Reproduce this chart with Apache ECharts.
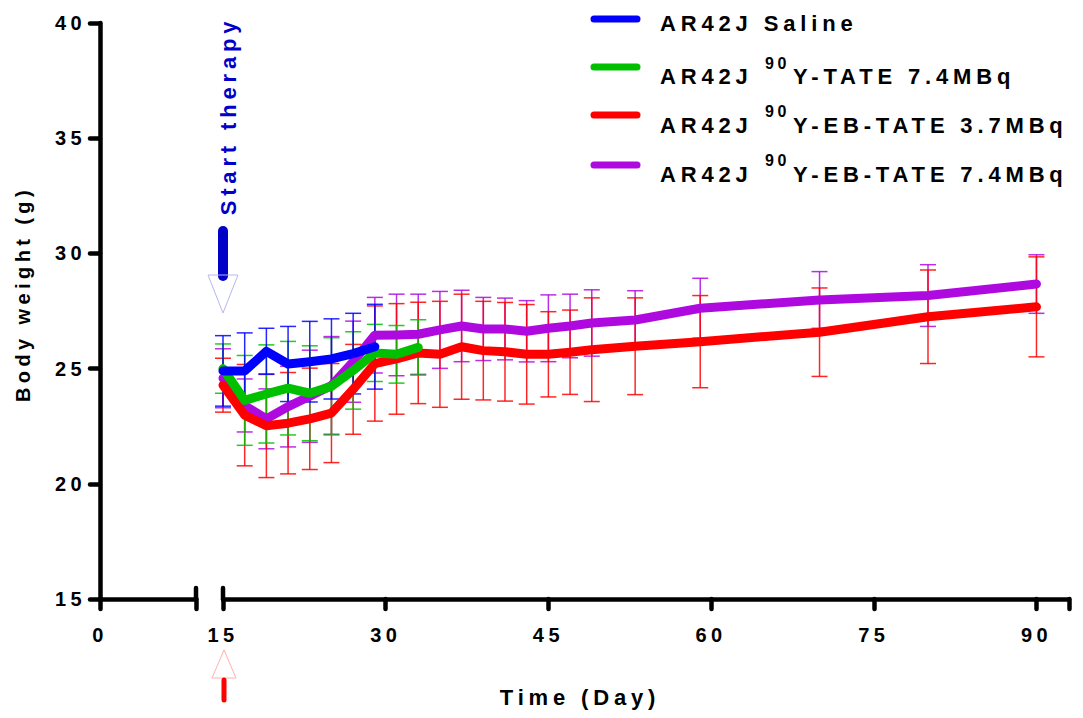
<!DOCTYPE html>
<html>
<head>
<meta charset="utf-8">
<title>Body weight</title>
<script src="https://cdn.jsdelivr.net/npm/echarts@6.0.0/dist/echarts.min.js"></script>
<style>
  html, body { margin: 0; padding: 0; background: #fff; }
  #chart { width: 1083px; height: 718px; }
  /* the figure uses wide letter spacing on all of its text */
  #chart text { letter-spacing: 0.22em; }
</style>
</head>
<body>
<div id="chart"></div>
<script>
// measurement days (all groups share the same schedule, some stop early)
const days = [15, 17, 19, 21, 23, 25, 27, 29, 31, 33, 35, 37, 39, 41, 43, 45, 47, 49, 53, 59, 70, 80, 90];

// AR42J Saline (days 15..29)
const salineMean = [24.9, 24.9, 25.75, 25.2, 25.3, 25.42, 25.65, 25.95];
const salineSd = [1.53, 1.65, 1.0, 1.63, 1.75, 1.74, 1.75, 1.84];

// AR42J 90Y-TATE 7.4MBq (days 15..33)
const tateMean = [25.0, 23.62, 23.9, 24.15, 23.93, 24.23, 24.92, 25.68, 25.62, 25.92];
const tateSd = [1.07, 1.95, 2.13, 2.03, 2.06, 2.11, 1.68, 1.24, 1.25, 1.2];

// AR42J 90Y-EB-TATE 3.7MBq
const ebLowMean = [24.28, 22.98, 22.52, 22.63, 22.82, 23.07, 24.1, 25.22, 25.42, 25.68, 25.62, 25.95,
  25.78, 25.73, 25.62, 25.62, 25.71, 25.82, 25.97, 26.17, 26.58, 27.25, 27.68];
const ebLowSd = [1.17, 2.2, 2.25, 2.2, 2.2, 2.15, 1.95, 2.5, 2.4, 2.2, 2.3, 2.28,
  2.14, 2.14, 2.16, 1.85, 1.83, 2.25, 2.1, 2.0, 1.92, 2.03, 2.17];

// AR42J 90Y-EB-TATE 7.4MBq
const ebHighMean = [24.58, 23.4, 22.82, 23.35, 23.8, 24.27, 25.3, 26.45, 26.46, 26.49, 26.68, 26.85,
  26.72, 26.72, 26.62, 26.75, 26.85, 26.98, 27.11, 27.62, 27.98, 28.17, 28.67];
const ebHighSd = [1.28, 1.15, 1.3, 1.75, 2.0, 2.12, 1.76, 1.64, 1.77, 1.74, 1.67, 1.55,
  1.37, 1.34, 1.33, 1.45, 1.38, 1.44, 1.27, 1.3, 1.23, 1.34, 1.27];

const therapyDay = 15;

// legend pieces: prefix, superscript, rest
const legendPrefix = ['AR42J Saline', 'AR42J', 'AR42J', 'AR42J'];
const legendSup = ['', '90', '90', '90'];
const legendRest = ['', 'Y-TATE 7.4MBq', 'Y-EB-TATE 3.7MBq', 'Y-EB-TATE 7.4MBq'];
const seriesNames = ['AR42J Saline', 'AR42J 90Y-TATE 7.4MBq', 'AR42J 90Y-EB-TATE 3.7MBq', 'AR42J 90Y-EB-TATE 7.4MBq'];

const FONT = '"Liberation Sans", Arial, sans-serif';
const colors = ['#0000ff', '#00c000', '#ff0000', '#ae0ae0'];

const groups = [
  { mean: salineMean, sd: salineSd },
  { mean: tateMean, sd: tateSd },
  { mean: ebLowMean, sd: ebLowSd },
  { mean: ebHighMean, sd: ebHighSd }
];

function errorBars(color) {
  return function (params, api) {
    const x = api.value(0);
    const m = api.value(1);
    const sd = api.value(2);
    const hi = api.coord([x, m + sd]);
    const lo = api.coord([x, m - sd]);
    const w = 8;
    const style = { stroke: color, lineWidth: 1.5, opacity: 0.85 };
    return {
      type: 'group',
      children: [
        { type: 'line', shape: { x1: hi[0], y1: hi[1], x2: lo[0], y2: lo[1] }, style: style },
        { type: 'line', shape: { x1: hi[0] - w, y1: hi[1], x2: hi[0] + w, y2: hi[1] }, style: style },
        { type: 'line', shape: { x1: lo[0] - w, y1: lo[1], x2: lo[0] + w, y2: lo[1] }, style: style }
      ]
    };
  };
}

const axisLine = { show: true, lineStyle: { color: '#000', width: 4.5, cap: 'round' } };
const axisTick = { show: true, length: 10, lineStyle: { color: '#000', width: 4.5, cap: 'round' } };
const axisLabel = { color: '#000', fontFamily: FONT, fontWeight: 'bold', fontSize: 20 };

// draw order: purple, red, green, blue (blue on top)
const drawOrder = [3, 2, 1, 0];
let series = [];
drawOrder.forEach((g) => {
  const grp = groups[g];
  series.push({
    name: seriesNames[g] + ' SD',
    type: 'custom',
    xAxisIndex: 1,
    yAxisIndex: 1,
    z: 1,
    renderItem: errorBars(colors[g]),
    encode: { x: 0, y: 1 },
    data: grp.mean.map((m, i) => [days[i], m, grp.sd[i]])
  });
});
drawOrder.forEach((g) => {
  const grp = groups[g];
  series.push({
    name: seriesNames[g],
    type: 'line',
    xAxisIndex: 1,
    yAxisIndex: 1,
    z: 3,
    showSymbol: false,
    symbol: 'none',
    lineStyle: { color: colors[g], width: 9, cap: 'round', join: 'round' },
    data: grp.mean.map((m, i) => [days[i], m])
  });
});

const chart = echarts.init(document.getElementById('chart'), null, { renderer: 'svg' });

const options = {
  animation: false,
  backgroundColor: '#fff',
  grid: [
    { left: 100, top: 23, width: 96, height: 576 },
    { left: 223, top: 23, width: 846, height: 576 }
  ],
  xAxis: [
    {
      gridIndex: 0, type: 'value', min: 0, max: 10, interval: 10,
      axisLine: axisLine, axisTick: axisTick, splitLine: { show: false },
      axisLabel: Object.assign({}, axisLabel, { margin: 26, formatter: (v) => (v === 0 ? '0' : '') })
    },
    {
      gridIndex: 1, type: 'value', min: 15, max: 93, interval: 15,
      axisLine: axisLine, axisTick: axisTick, splitLine: { show: false },
      axisLabel: Object.assign({}, axisLabel, { margin: 26, formatter: (v) => (v <= 90 ? String(v) : '') })
    }
  ],
  yAxis: [
    {
      gridIndex: 0, type: 'value', min: 15, max: 40, interval: 5,
      axisLine: axisLine, axisTick: axisTick, splitLine: { show: false },
      axisLabel: Object.assign({}, axisLabel, { margin: 14 })
    },
    { gridIndex: 1, type: 'value', min: 15, max: 40, interval: 5, show: false }
  ],
  series: series
};
chart.setOption(options);

// annotations placed from the axes
const startX = chart.convertToPixel({ xAxisIndex: 1 }, therapyDay);
const breakLeft = chart.convertToPixel({ xAxisIndex: 0 }, 10);
const axisY = chart.convertToPixel({ yAxisIndex: 0 }, 15);

const swatchY = [19, 67, 115, 165];
const textY = [23, 76, 125, 174];
const supY = [0, 63, 111, 160];

let graphic = [];
// axis break marks (upper half of the tick)
[breakLeft, startX].forEach((bx) => {
  graphic.push({
    type: 'line', z: 10,
    shape: { x1: bx, y1: axisY - 11, x2: bx, y2: axisY },
    style: { stroke: '#000', lineWidth: 4.5, lineCap: 'round' }
  });
});

// axis titles
graphic.push({
  type: 'text', x: 23, y: 294, rotation: Math.PI / 2, z: 10,
  style: { text: 'Body weight (g)', fill: '#000', font: 'bold 20px ' + FONT, textAlign: 'center', textVerticalAlign: 'middle' }
});
graphic.push({
  type: 'text', x: 580, y: 697, z: 10,
  style: { text: 'Time (Day)', fill: '#000', font: 'bold 22px ' + FONT, textAlign: 'center', textVerticalAlign: 'middle' }
});

// start therapy arrow (blue, top)
graphic.push({
  type: 'text', x: startX + 5, y: 116, rotation: Math.PI / 2, z: 10,
  style: { text: 'Start therapy', fill: '#0000c8', font: 'bold 22px ' + FONT, textAlign: 'center', textVerticalAlign: 'middle' }
});
graphic.push({
  type: 'line', z: 10,
  shape: { x1: startX, y1: 231, x2: startX, y2: 276 },
  style: { stroke: '#0000c8', lineWidth: 10, lineCap: 'round' }
});
graphic.push({
  type: 'polygon', z: 10,
  shape: { points: [[startX - 15, 275], [startX + 15, 275], [startX, 313]] },
  style: { fill: 'none', stroke: '#b4b8f0', lineWidth: 1 }
});

// red arrow (bottom)
graphic.push({
  type: 'polygon', z: 10,
  shape: { points: [[startX + 1, 650], [startX - 11, 678], [startX + 13, 678]] },
  style: { fill: 'none', stroke: '#ffb0b0', lineWidth: 1 }
});
graphic.push({
  type: 'line', z: 10,
  shape: { x1: startX + 1, y1: 680, x2: startX + 1, y2: 700 },
  style: { stroke: '#ff0000', lineWidth: 5, lineCap: 'round' }
});

// legend
for (let i = 0; i < 4; i++) {
  graphic.push({
    type: 'line', z: 10,
    shape: { x1: 594, y1: swatchY[i], x2: 637, y2: swatchY[i] },
    style: { stroke: colors[i], lineWidth: 7, lineCap: 'round' }
  });
  graphic.push({
    type: 'text', x: 660, y: textY[i], z: 10,
    style: { text: legendPrefix[i], fill: '#000', font: 'bold 22px ' + FONT, textAlign: 'left', textVerticalAlign: 'middle' }
  });
  if (legendSup[i]) {
    graphic.push({
      type: 'text', x: 765, y: supY[i], z: 10,
      style: { text: legendSup[i], fill: '#000', font: 'bold 16px ' + FONT, textAlign: 'left', textVerticalAlign: 'middle' }
    });
    graphic.push({
      type: 'text', x: 793, y: textY[i], z: 10,
      style: { text: legendRest[i], fill: '#000', font: 'bold 22px ' + FONT, textAlign: 'left', textVerticalAlign: 'middle' }
    });
  }
}

chart.setOption({ graphic: graphic });
</script>
</body>
</html>
